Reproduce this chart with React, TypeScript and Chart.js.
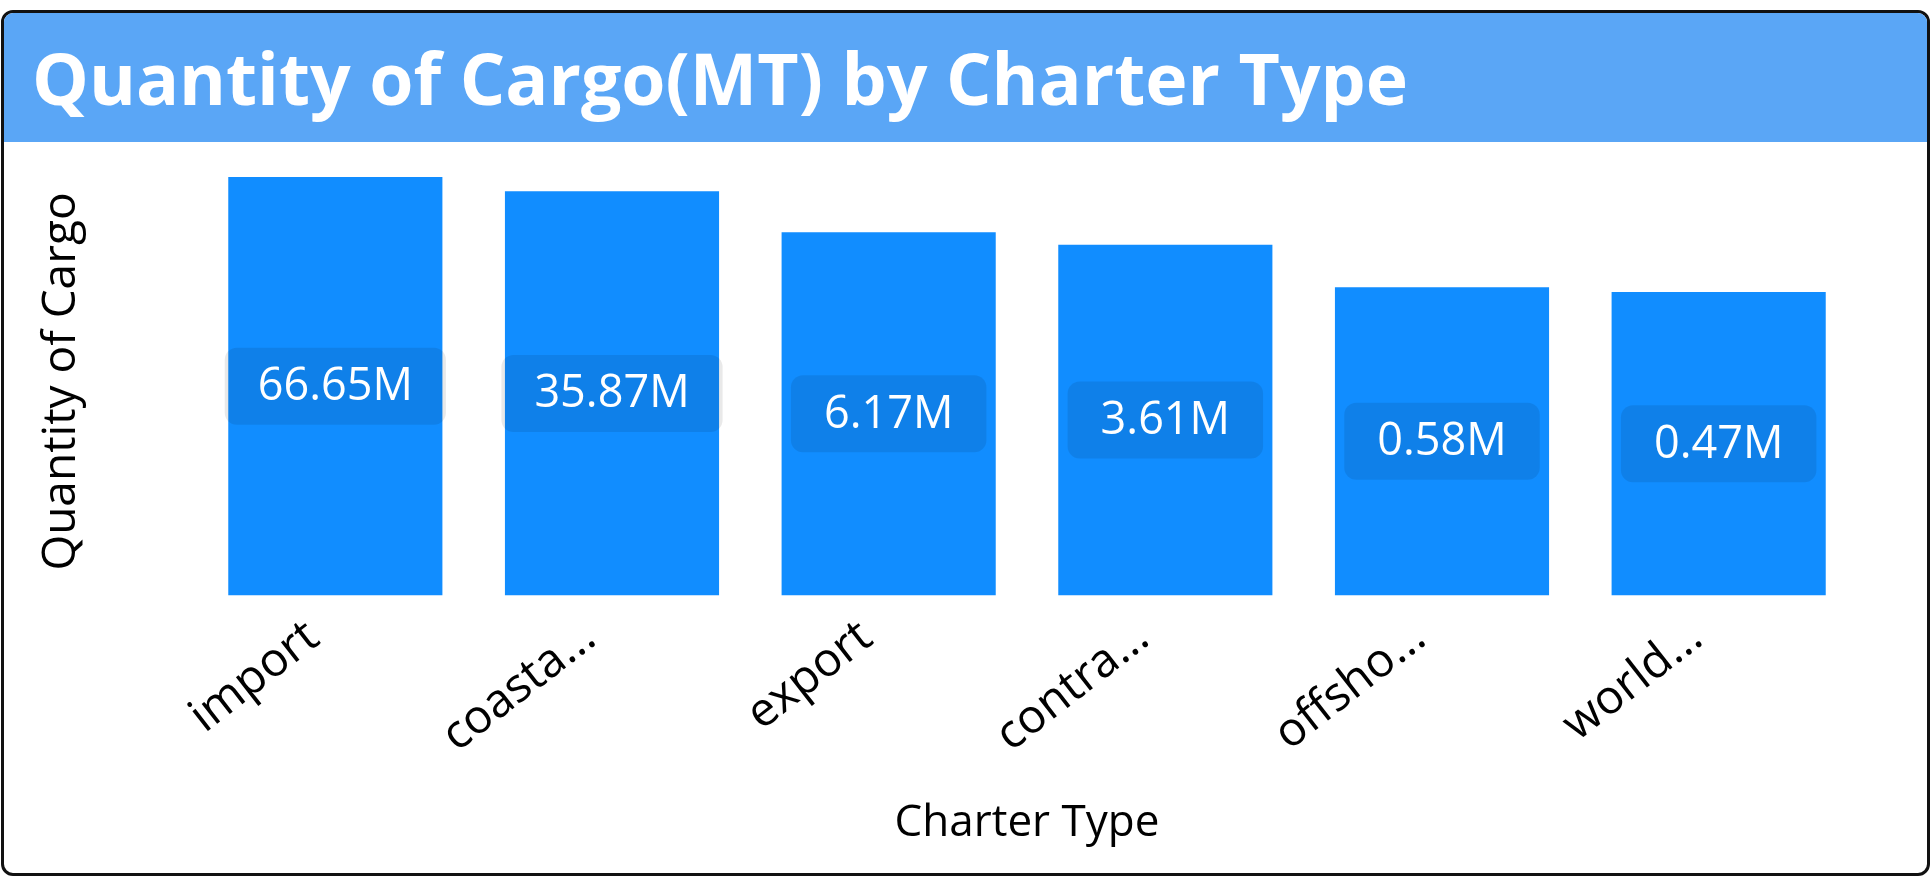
import React, { useEffect, useRef } from "react";
import { Chart, registerables } from "chart.js";

Chart.register(...registerables);

const categories = ["import", "coasta...", "export", "contra...", "offsho...", "world..."];
const cargoQuantity = [66650000, 35870000, 6170000, 3610000, 580000, 470000];
const valueLabels = ["66.65M", "35.87M", "6.17M", "3.61M", "0.58M", "0.47M"];

const chartTitle = "Quantity of Cargo(MT) by Charter Type";
const xTitle = "Charter Type";
const yTitle = "Quantity of Cargo";

const CANVAS_W = 1923;
const CANVAS_H = 731;

const barLabelPlugin = {
  id: "barLabelBoxes",
  afterDatasetsDraw(chart: any) {
    const ctx = chart.ctx;
    const meta = chart.getDatasetMeta(0);
    ctx.save();
    ctx.font = "45px 'Open Sans'";
    ctx.textAlign = "center";
    ctx.textBaseline = "middle";
    meta.data.forEach((bar: any, i: number) => {
      const { x, y, base } = bar.getProps(["x", "y", "base"], true);
      const cy = (y + base) / 2;
      const text = valueLabels[i];
      const w = ctx.measureText(text).width + 66;
      const h = 77;
      ctx.fillStyle = "rgba(0,0,0,0.085)";
      ctx.beginPath();
      ctx.roundRect(x - w / 2, cy - h / 2, w, h, 12);
      ctx.fill();
      ctx.fillStyle = "#ffffff";
      ctx.fillText(text, x, cy + 1);
    });
    ctx.restore();
  },
};

function BarChart() {
  const ref = useRef<HTMLCanvasElement | null>(null);
  useEffect(() => {
    if (!ref.current) return;
    const chart = new Chart(ref.current, {
      type: "bar",
      data: {
        labels: categories,
        datasets: [
          {
            label: yTitle,
            data: cargoQuantity,
            backgroundColor: "#118DFF",
            borderWidth: 0,
            categoryPercentage: 1,
            barPercentage: 0.774,
          },
        ],
      },
      options: {
        animation: false,
        responsive: false,
        maintainAspectRatio: false,
        devicePixelRatio: 1,
        layout: { padding: { left: 26, right: 70, top: 25.5, bottom: 19.6 } },
        plugins: {
          legend: { display: false },
          tooltip: { enabled: false },
          title: { display: false },
        },
        scales: {
          x: {
            grid: { display: false },
            border: { display: false },
            ticks: {
              color: "#000",
              font: { family: "'Open Sans'", size: 47 },
              minRotation: 38,
              maxRotation: 38,
              autoSkip: false,
              padding: 6,
              labelOffset: -22,
            },
            title: {
              display: true,
              text: xTitle,
              color: "#000",
              font: { family: "'Open Sans'", size: 44 },
              padding: 4,
            },
            afterFit(scale: any) {
              scale.height = 257.9;
            },
          },
          y: {
            type: "logarithmic",
            min: 1,
            max: 100000000,
            grid: { display: false },
            border: { display: false },
            ticks: { display: false },
            title: {
              display: true,
              text: yTitle,
              color: "#000",
              font: { family: "'Open Sans'", size: 46 },
              padding: 4,
            },
            afterFit(scale: any) {
              scale.width = 167;
            },
          },
        },
      },
      plugins: [barLabelPlugin],
    } as any);
    return () => chart.destroy();
  }, []);
  return <canvas ref={ref} width={CANVAS_W} height={CANVAS_H} style={{ display: "block", width: CANVAS_W, height: CANVAS_H }} />;
}

export default function App() {
  return (
    <div style={{ position: "fixed", left: 0, top: 0, width: 1932, height: 878, background: "#fff", overflow: "hidden" }}>
      <div
        style={{
          position: "absolute",
          left: 1,
          top: 10,
          width: 1929,
          height: 866,
          boxSizing: "border-box",
          border: "3px solid #111",
          borderRadius: 12,
          overflow: "hidden",
          background: "#fff",
        }}
      >
        <div
          style={{
            height: 129,
            background: "#5AA6F6",
            color: "#fff",
            fontFamily: "'Open Sans', sans-serif",
            fontWeight: 700,
            fontSize: 71.5,
            lineHeight: "129px",
            paddingLeft: 28,
            whiteSpace: "nowrap",
          }}
        >
          {chartTitle}
        </div>
        <BarChart />
      </div>
    </div>
  );
}
